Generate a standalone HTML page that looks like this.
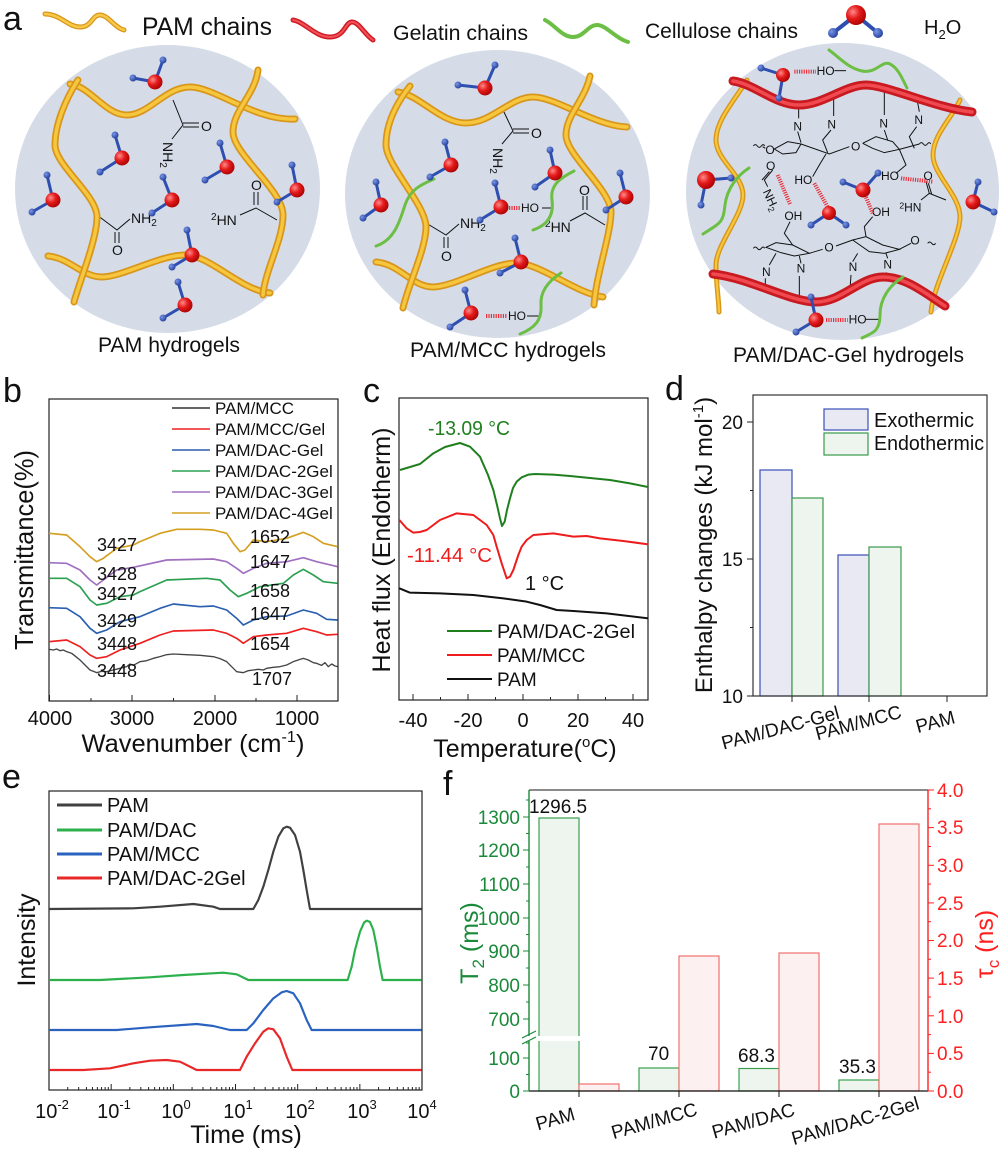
<!DOCTYPE html>
<html><head><meta charset="utf-8">
<style>
html,body{margin:0;padding:0;background:#fff}
svg{display:block}
text{font-family:"Liberation Sans",Arial,sans-serif;fill:#111}
</style></head><body>
<svg width="1006" height="1156" viewBox="0 0 1006 1156" xmlns="http://www.w3.org/2000/svg" xmlns:xlink="http://www.w3.org/1999/xlink">
<defs>
<radialGradient id="gR" cx="0.35" cy="0.35" r="0.75"><stop offset="0" stop-color="#ff8a8a"/><stop offset="0.45" stop-color="#e41a1a"/><stop offset="1" stop-color="#a00000"/></radialGradient>
<radialGradient id="gB" cx="0.35" cy="0.35" r="0.75"><stop offset="0" stop-color="#7a96e6"/><stop offset="1" stop-color="#1c3896"/></radialGradient>
<path id="c1t" d="M70,84 C90,86 105,115 127,115 S165,87 190,87 S255,121 295,119"/>
<path id="c1l" d="M78,80 C65,100 55,125 55,145 S97,195 97,217 S80,280 74,302"/>
<path id="c1b" d="M48,256 C70,258 82,277 102,277 S160,255 185,255 S240,290 270,293"/>
<path id="c1r" d="M258,70 C255,95 233,110 233,132 S283,190 283,215 S265,270 263,295"/>
<path id="c2t" d="M398,92 C420,95 440,123 466,123 S510,97 533,97 S595,126 627,127"/>
<path id="c2l" d="M410,86 C395,105 386,125 386,145 S426,205 426,227 S408,285 403,308"/>
<path id="c2b" d="M376,262 C400,264 412,287 433,287 S492,263 516,263 S575,293 603,297"/>
<path id="c2r" d="M590,76 C585,100 566,115 566,135 S611,190 611,212 S596,275 594,305"/>
<path id="c3l" d="M747,80 C735,100 716,120 716,140 S743,175 743,195 S716,245 716,265 S719,300 719,312"/>
<path id="c3r" d="M960,100 C952,118 933,135 933,155 S960,195 960,217 S933,285 931,312"/>
<path id="c3t" d="M733,81 C755,84 775,105 799,105 S845,85 866,85 S935,108 972,112"/>
<path id="c3b" d="M713,274 C750,278 790,302 816,302 S860,277 883,277 S925,293 945,306"/>
<path id="lgY" d="M45,14 C60,14 68,27 80,27 S92,15 100,15 S115,28 124,30"/>
<path id="lgR" d="M293,20 C305,22 315,37 330,37 S345,22 352,22 S365,35 373,40"/>
<g id="dec" stroke="#222" stroke-width="1">
<line x1="0" y1="0" x2="0" y2="-6"/>
<line x1="18.71" y1="0" x2="18.71" y2="-3"/><line x1="29.66" y1="0" x2="29.66" y2="-3"/>
<line x1="37.43" y1="0" x2="37.43" y2="-3"/><line x1="43.46" y1="0" x2="43.46" y2="-3"/>
<line x1="48.37" y1="0" x2="48.37" y2="-3"/><line x1="52.53" y1="0" x2="52.53" y2="-3"/>
<line x1="56.14" y1="0" x2="56.14" y2="-3"/><line x1="59.31" y1="0" x2="59.31" y2="-3"/>
</g>
</defs>
<rect width="1006" height="1156" fill="#fff"/>

<!-- ================= PANEL A ================= -->
<text x="3" y="30" font-size="34">a</text>
<use xlink:href="#lgY" fill="none" stroke="#d8961a" stroke-width="5" stroke-linecap="round"/>
<use xlink:href="#lgY" fill="none" stroke="#f8c848" stroke-width="2.5" stroke-linecap="round"/>
<text x="142" y="35" font-size="25" textLength="130" lengthAdjust="spacingAndGlyphs">PAM chains</text>
<use xlink:href="#lgR" fill="none" stroke="#d01c24" stroke-width="5" stroke-linecap="round"/>
<use xlink:href="#lgR" fill="none" stroke="#f25058" stroke-width="2" stroke-linecap="round"/>
<text x="393" y="40" font-size="21" textLength="135" lengthAdjust="spacingAndGlyphs">Gelatin chains</text>
<path d="M545,20 C555,25 562,37 573,37 S588,25 597,25 S615,38 628,42" fill="none" stroke="#6cbf44" stroke-width="4" stroke-linecap="round"/>
<text x="645" y="38" font-size="21" textLength="153" lengthAdjust="spacingAndGlyphs">Cellulose chains</text>
<line x1="856" y1="15" x2="833" y2="33" stroke="#2e4fb0" stroke-width="4"/>
<line x1="856" y1="15" x2="878" y2="33" stroke="#2e4fb0" stroke-width="4"/>
<circle cx="833" cy="33" r="5" fill="url(#gB)"/><circle cx="878" cy="33" r="5" fill="url(#gB)"/>
<circle cx="856" cy="15" r="10" fill="url(#gR)"/>
<text x="924" y="34" font-size="20">H<tspan font-size="13" dy="5">2</tspan><tspan dy="-5">O</tspan></text>

<!-- circles -->
<ellipse cx="167.5" cy="189" rx="152.5" ry="144" fill="#d5dce8"/>
<ellipse cx="497.5" cy="194" rx="152.5" ry="144" fill="#d5dce8"/>
<ellipse cx="842.5" cy="191.5" rx="156.5" ry="148.5" fill="#d5dce8"/>

<!-- circle 1 chemistry -->
<g stroke="#111" stroke-width="1" fill="none">
<polyline points="173,100 183,125 172,139"/>
<line x1="183" y1="123" x2="199" y2="123"/><line x1="183" y1="127" x2="199" y2="127"/>
<polyline points="97,215 117,230 130,219"/>
<line x1="115" y1="232" x2="115" y2="243"/><line x1="119" y1="232" x2="119" y2="243"/>
<polyline points="277,220 256,208 240,215"/>
<line x1="254" y1="192" x2="254" y2="205"/><line x1="258" y1="192" x2="258" y2="205"/>
</g>
<text x="201" y="131" font-size="14">O</text>
<text transform="translate(163,142) rotate(90)" font-size="14">NH<tspan font-size="10" dy="3">2</tspan></text>
<text x="131" y="223" font-size="14">NH<tspan font-size="10" dy="3">2</tspan></text>
<text x="112" y="255" font-size="14">O</text>
<text x="251" y="190" font-size="14">O</text>
<text x="211" y="225" font-size="14"><tspan font-size="10" dy="-5">2</tspan><tspan dy="5">HN</tspan></text>

<!-- circle 2 chemistry -->
<g stroke="#111" stroke-width="1" fill="none">
<polyline points="503,110 513,131 502,144"/>
<line x1="513" y1="129" x2="529" y2="129"/><line x1="513" y1="133" x2="529" y2="133"/>
<polyline points="426,223 446,235 459,224"/>
<line x1="444" y1="237" x2="444" y2="248"/><line x1="448" y1="237" x2="448" y2="248"/>
<polyline points="605,225 585,213 570,221"/>
<line x1="583" y1="196" x2="583" y2="210"/><line x1="587" y1="196" x2="587" y2="210"/>
<line x1="542" y1="208" x2="552" y2="208"/>
<line x1="527" y1="316" x2="540" y2="316"/>
</g>
<text x="531" y="138" font-size="14">O</text>
<text transform="translate(493,148) rotate(90)" font-size="14">NH<tspan font-size="10" dy="3">2</tspan></text>
<text x="460" y="228" font-size="14">NH<tspan font-size="10" dy="3">2</tspan></text>
<text x="441" y="261" font-size="14">O</text>
<text x="579" y="195" font-size="14">O</text>
<text x="545" y="232" font-size="14"><tspan font-size="10" dy="-5">2</tspan><tspan dy="5">HN</tspan></text>
<text x="521" y="212" font-size="12">HO</text>
<text x="508" y="320" font-size="12">HO</text>
<g stroke="#e8303a" stroke-width="4" stroke-dasharray="1.2 1.2"><line x1="509" y1="208" x2="520" y2="208"/><line x1="486" y1="316" x2="507" y2="316"/></g>

<!-- circle 3 chemistry (zoom coords) -->
<g transform="translate(666,0) scale(0.33333)">
<g stroke="#111" stroke-width="3" fill="none">
<path d="M262,438 q6,-8 12,0 t12,0 t10,0"/>
<line x1="298" y1="445" x2="290" y2="440"/>
<path d="M325,447 L365,425 L405,432 L390,458 L350,462 Z"/>
<polyline points="405,432 490,462 550,440"/>
<polyline points="590,430 630,410 680,425 700,448 655,458 620,445 590,430"/>
<polyline points="700,448 760,432"/>
<path d="M760,432 q6,-8 12,0 t12,0 t10,0"/>
<line x1="398" y1="355" x2="398" y2="320"/><line x1="503" y1="348" x2="503" y2="295"/>
<line x1="655" y1="345" x2="655" y2="268"/><line x1="760" y1="335" x2="752" y2="292"/>
<polyline points="395,395 405,428"/><polyline points="495,390 470,420 485,458"/>
<polyline points="655,390 665,420"/><polyline points="752,380 730,410 745,445"/>
<polyline points="480,462 460,495 440,530"/>
<polyline points="700,448 720,495 690,520"/>
<polyline points="320,510 295,540 305,560"/><line x1="310" y1="515" x2="288" y2="540"/>
<polyline points="780,545 790,580 840,600"/><line x1="787" y1="550" x2="797" y2="582"/>
<line x1="790" y1="580" x2="765" y2="600"/>
<path d="M262,745 q6,-8 12,0 t12,0 t10,0"/>
<path d="M300,742 L330,728 L380,735 L430,760 L385,768 L345,758 Z"/>
<polyline points="380,735 355,700 372,665"/>
<polyline points="430,760 470,748"/><polyline points="510,738 560,720"/>
<path d="M560,720 L600,710 L650,735 L700,748 L655,760 L610,755 Z"/>
<polyline points="600,710 595,680 620,650"/>
<path d="M785,730 q6,-8 12,0 t12,0"/>
<line x1="700" y1="748" x2="735" y2="730"/>
<line x1="330" y1="760" x2="310" y2="795"/><line x1="400" y1="768" x2="405" y2="790"/>
<line x1="575" y1="760" x2="560" y2="785"/><line x1="660" y1="760" x2="665" y2="775"/>
<line x1="298" y1="835" x2="298" y2="870"/><line x1="400" y1="828" x2="400" y2="898"/>
<line x1="555" y1="825" x2="552" y2="868"/><line x1="660" y1="818" x2="690" y2="835"/>
<line x1="505" y1="212" x2="540" y2="212"/><line x1="600" y1="958" x2="640" y2="958"/>
</g>
<g font-size="36">
<text x="298" y="462">O</text>
<text x="555" y="452">O</text>
<text x="382" y="392">N</text><text x="484" y="386">N</text><text x="640" y="382">N</text><text x="745" y="372">N</text>
<text x="300" y="510">O</text>
<text transform="translate(290,575) rotate(65)">NH<tspan font-size="26" dy="8">2</tspan></text>
<text x="385" y="552">HO</text>
<text x="645" y="540">HO</text>
<text x="772" y="540">O</text>
<text x="700" y="635"><tspan font-size="26" dy="-10">2</tspan><tspan dy="10">HN</tspan></text>
<text x="355" y="660">OH</text>
<text x="618" y="648">OH</text>
<text x="475" y="755">O</text>
<text x="733" y="733">O</text>
<text x="288" y="828">N</text><text x="392" y="818">N</text><text x="548" y="813">N</text><text x="652" y="806">N</text>
<text x="452" y="225">HO</text>
<text x="548" y="970">HO</text>
</g>
<g stroke="#e8303a" stroke-width="12" stroke-dasharray="3.5 3.5">
<line x1="335" y1="525" x2="372" y2="612"/>
<line x1="445" y1="550" x2="490" y2="630"/>
<line x1="600" y1="592" x2="620" y2="640"/>
<line x1="705" y1="535" x2="800" y2="545"/>
<line x1="385" y1="215" x2="450" y2="215"/>
<line x1="480" y1="960" x2="545" y2="960"/>
</g>
</g>

<!-- chains -->
<g fill="none" stroke-linecap="round">
<use xlink:href="#c1t" stroke="#d8961a" stroke-width="7"/><use xlink:href="#c1t" stroke="#f7c63f" stroke-width="3.5"/>
<use xlink:href="#c1b" stroke="#d8961a" stroke-width="7"/><use xlink:href="#c1b" stroke="#f7c63f" stroke-width="3.5"/>
<use xlink:href="#c1l" stroke="#d8961a" stroke-width="7"/><use xlink:href="#c1l" stroke="#f7c63f" stroke-width="3.5"/>
<use xlink:href="#c1r" stroke="#d8961a" stroke-width="7"/><use xlink:href="#c1r" stroke="#f7c63f" stroke-width="3.5"/>
<use xlink:href="#c2t" stroke="#d8961a" stroke-width="7"/><use xlink:href="#c2t" stroke="#f7c63f" stroke-width="3.5"/>
<use xlink:href="#c2b" stroke="#d8961a" stroke-width="7"/><use xlink:href="#c2b" stroke="#f7c63f" stroke-width="3.5"/>
<use xlink:href="#c2l" stroke="#d8961a" stroke-width="7"/><use xlink:href="#c2l" stroke="#f7c63f" stroke-width="3.5"/>
<use xlink:href="#c2r" stroke="#d8961a" stroke-width="7"/><use xlink:href="#c2r" stroke="#f7c63f" stroke-width="3.5"/>
<use xlink:href="#c3l" stroke="#d8961a" stroke-width="5"/><use xlink:href="#c3l" stroke="#f7c63f" stroke-width="2.2"/>
<use xlink:href="#c3r" stroke="#d8961a" stroke-width="5"/><use xlink:href="#c3r" stroke="#f7c63f" stroke-width="2.2"/>
<use xlink:href="#c3t" stroke="#c81a20" stroke-width="9"/><use xlink:href="#c3t" stroke="#f04a50" stroke-width="3.5"/>
<use xlink:href="#c3b" stroke="#c81a20" stroke-width="9"/><use xlink:href="#c3b" stroke="#f04a50" stroke-width="3.5"/>
<g stroke="#6cbf44" stroke-width="3">
<path d="M434,179 C420,185 410,190 405,205 S395,240 376,246"/>
<path d="M574,171 C560,178 550,185 552,200 S548,225 533,230"/>
<path d="M561,273 C550,280 540,290 541,305 S535,328 520,334"/>
<path d="M829,50 C840,58 848,68 862,71 S882,60 890,64 S902,78 907,88"/>
<path d="M749,168 C738,175 727,188 725,205 S722,222 703,234"/>
<path d="M903,277 C890,285 880,298 880,315 S872,333 862,338"/>
</g>
</g>

<!-- waters -->
<g stroke="#2e4fb0" stroke-width="3">
<path d="M155,82L133,78M155,82L163,60 M122,158L115,135M122,158L100,172 M53,200L47,175M53,200L32,212 M227,167L220,143M227,167L205,180 M172,200L163,177M172,200L152,213 M297,190L292,165M297,190L277,202 M192,255L187,230M192,255L172,267 M185,305L178,282M185,305L163,318"/>
<path d="M485,88L458,85M485,88L495,65 M451,165L445,142M451,165L430,177 M381,205L376,182M381,205L363,218 M555,173L550,150M555,173L535,187 M501,207L495,183M501,207L480,220 M626,197L620,173M626,197L606,210 M521,262L515,238M521,262L500,273 M471,313L465,290M471,313L450,327"/>
<path d="M783,75L761,68M783,75L779,98 M706,180L731,178M706,180L701,205 M829,213L811,225M829,213L846,225 M863,190L843,182M863,190L878,173 M973,202L978,182M973,202L994,212 M816,320L811,297M816,320L796,332"/>
</g>
<g fill="url(#gB)">
<circle cx="133" cy="78" r="3.5"/><circle cx="163" cy="60" r="3.5"/><circle cx="115" cy="135" r="3.5"/><circle cx="100" cy="172" r="3.5"/>
<circle cx="47" cy="175" r="3.5"/><circle cx="32" cy="212" r="3.5"/><circle cx="220" cy="143" r="3.5"/><circle cx="205" cy="180" r="3.5"/>
<circle cx="163" cy="177" r="3.5"/><circle cx="152" cy="213" r="3.5"/><circle cx="292" cy="165" r="3.5"/><circle cx="277" cy="202" r="3.5"/>
<circle cx="187" cy="230" r="3.5"/><circle cx="172" cy="267" r="3.5"/><circle cx="178" cy="282" r="3.5"/><circle cx="163" cy="318" r="3.5"/>
<circle cx="458" cy="85" r="3.5"/><circle cx="495" cy="65" r="3.5"/><circle cx="445" cy="142" r="3.5"/><circle cx="430" cy="177" r="3.5"/>
<circle cx="376" cy="182" r="3.5"/><circle cx="363" cy="218" r="3.5"/><circle cx="550" cy="150" r="3.5"/><circle cx="535" cy="187" r="3.5"/>
<circle cx="495" cy="183" r="3.5"/><circle cx="480" cy="220" r="3.5"/><circle cx="620" cy="173" r="3.5"/><circle cx="606" cy="210" r="3.5"/>
<circle cx="515" cy="238" r="3.5"/><circle cx="500" cy="273" r="3.5"/><circle cx="465" cy="290" r="3.5"/><circle cx="450" cy="327" r="3.5"/>
<circle cx="761" cy="68" r="3.5"/><circle cx="779" cy="98" r="3.5"/><circle cx="731" cy="178" r="3.5"/><circle cx="701" cy="205" r="3.5"/>
<circle cx="811" cy="225" r="3.5"/><circle cx="846" cy="225" r="3.5"/><circle cx="843" cy="182" r="3.5"/><circle cx="878" cy="173" r="3.5"/>
<circle cx="978" cy="182" r="3.5"/><circle cx="994" cy="212" r="3.5"/><circle cx="811" cy="297" r="3.5"/><circle cx="796" cy="332" r="3.5"/>
</g>
<g fill="url(#gR)">
<circle cx="155" cy="82" r="7.5"/><circle cx="122" cy="158" r="7.5"/><circle cx="53" cy="200" r="7.5"/><circle cx="227" cy="167" r="7.5"/>
<circle cx="172" cy="200" r="7.5"/><circle cx="297" cy="190" r="7.5"/><circle cx="192" cy="255" r="7.5"/><circle cx="185" cy="305" r="7.5"/>
<circle cx="485" cy="88" r="7.5"/><circle cx="451" cy="165" r="7.5"/><circle cx="381" cy="205" r="7.5"/><circle cx="555" cy="173" r="7.5"/>
<circle cx="501" cy="207" r="7.5"/><circle cx="626" cy="197" r="7.5"/><circle cx="521" cy="262" r="7.5"/><circle cx="471" cy="313" r="7.5"/>
<circle cx="783" cy="75" r="7"/><circle cx="706" cy="180" r="9"/><circle cx="829" cy="213" r="7"/><circle cx="863" cy="190" r="7.5"/>
<circle cx="973" cy="202" r="7.5"/><circle cx="816" cy="320" r="7.5"/>
</g>

<text x="98" y="352" font-size="21" textLength="142" lengthAdjust="spacingAndGlyphs">PAM hydrogels</text>
<text x="410" y="357" font-size="21" textLength="196" lengthAdjust="spacingAndGlyphs">PAM/MCC hydrogels</text>
<text x="733" y="362" font-size="21" textLength="231" lengthAdjust="spacingAndGlyphs">PAM/DAC-Gel hydrogels</text>

<!-- ================= PANEL B ================= -->
<text x="3" y="402" font-size="34">b</text>
<rect x="49" y="399" width="289" height="302" fill="none" stroke="#222" stroke-width="1.2"/>
<g stroke="#222" stroke-width="1">
<line x1="49.5" y1="701" x2="49.5" y2="695"/><line x1="132" y1="701" x2="132" y2="695"/><line x1="215" y1="701" x2="215" y2="695"/><line x1="297" y1="701" x2="297" y2="695"/>
<line x1="91" y1="701" x2="91" y2="698"/><line x1="173.5" y1="701" x2="173.5" y2="698"/><line x1="256" y1="701" x2="256" y2="698"/>
</g>
<g font-size="20" text-anchor="middle">
<text x="50" y="725">4000</text><text x="132" y="725">3000</text><text x="215" y="725">2000</text><text x="297" y="725">1000</text>
</g>
<text x="193" y="752" font-size="25" text-anchor="middle" textLength="223" lengthAdjust="spacingAndGlyphs">Wavenumber (cm<tspan font-size="16" dy="-10">-1</tspan><tspan dy="10">)</tspan></text>
<text transform="translate(33,550) rotate(-90)" font-size="26" text-anchor="middle" textLength="200" lengthAdjust="spacingAndGlyphs">Transmittance(%)</text>
<!-- legend b -->
<g stroke-width="1.6">
<line x1="172" y1="408" x2="210" y2="408" stroke="#333"/>
<line x1="172" y1="429" x2="210" y2="429" stroke="#ee2020"/>
<line x1="172" y1="450" x2="210" y2="450" stroke="#2a5fb0"/>
<line x1="172" y1="471" x2="210" y2="471" stroke="#2aa050"/>
<line x1="172" y1="492" x2="210" y2="492" stroke="#a070c0"/>
<line x1="172" y1="513" x2="210" y2="513" stroke="#d4a020"/>
</g>
<g font-size="17">
<text x="215" y="414">PAM/MCC</text><text x="215" y="435">PAM/MCC/Gel</text><text x="215" y="456">PAM/DAC-Gel</text>
<text x="215" y="477">PAM/DAC-2Gel</text><text x="215" y="498">PAM/DAC-3Gel</text><text x="215" y="519">PAM/DAC-4Gel</text>
</g>
<g transform="translate(0,480) scale(0.33333)" fill="none" stroke-width="5" stroke-linejoin="round">
<polyline stroke="#d4a020" points="147,160 200,165 240,200 270,230 290,245 310,235 350,205 400,195 420,185 480,160 530,148 600,148 640,150 680,160 700,190 720,215 735,210 760,180 800,185 860,175 910,157 940,170 970,190 1013,200"/>
<polyline stroke="#a070c0" points="147,248 200,250 240,270 270,300 290,315 310,300 350,270 400,262 500,240 640,237 680,245 710,265 730,280 760,265 800,250 860,245 910,233 950,245 1013,260"/>
<polyline stroke="#2aa050" points="147,295 200,295 240,320 270,360 290,375 320,370 360,350 400,345 420,335 500,300 620,295 660,300 690,330 715,350 740,340 780,320 850,310 880,285 910,268 940,285 970,305 1013,310"/>
<polyline stroke="#2a5fb0" points="147,383 200,385 240,410 270,445 290,460 320,450 360,425 420,410 480,385 520,372 600,380 640,378 680,390 710,415 730,435 760,420 800,410 860,408 910,390 950,400 980,418 1013,420"/>
<polyline stroke="#ee2020" points="147,485 200,480 240,500 270,525 290,535 320,530 360,510 420,490 480,465 520,453 640,450 680,460 710,475 730,490 760,470 800,465 860,460 910,445 950,455 980,465 1013,463"/>
<polyline stroke="#444" stroke-width="4" points="147,508 160,510 170,507 180,512 190,510 200,515 215,520 230,532 240,540 255,555 270,570 290,578 305,574 320,575 340,570 360,565 380,560 390,552 400,556 420,545 440,542 460,535 480,530 500,524 520,522 560,524 600,526 640,530 660,536 680,545 695,560 710,575 730,578 745,572 760,570 775,568 790,570 800,565 820,562 840,560 860,555 880,545 900,538 910,535 925,540 940,548 950,550 965,556 975,548 985,560 995,552 1005,558 1013,560"/>
</g>
<g font-size="18">
<text x="97" y="551">3427</text><text x="97" y="580">3428</text><text x="97" y="600">3427</text>
<text x="97" y="627">3429</text><text x="97" y="650">3448</text><text x="97" y="677">3448</text>
<text x="250" y="543">1652</text><text x="250" y="568">1647</text><text x="250" y="597">1658</text>
<text x="250" y="620">1647</text><text x="250" y="650">1654</text><text x="252" y="685">1707</text>
</g>

<!-- ================= PANEL C ================= -->
<text x="363" y="402" font-size="34">c</text>
<rect x="399" y="398" width="249" height="302" fill="none" stroke="#222" stroke-width="1.2"/>
<g stroke="#222" stroke-width="1">
<line x1="413" y1="700" x2="413" y2="694"/><line x1="468" y1="700" x2="468" y2="694"/><line x1="523" y1="700" x2="523" y2="694"/><line x1="578" y1="700" x2="578" y2="694"/><line x1="633" y1="700" x2="633" y2="694"/>
<line x1="440.5" y1="700" x2="440.5" y2="697"/><line x1="495.5" y1="700" x2="495.5" y2="697"/><line x1="550.5" y1="700" x2="550.5" y2="697"/><line x1="605.5" y1="700" x2="605.5" y2="697"/>
</g>
<g font-size="20" text-anchor="middle">
<text x="413" y="727">-40</text><text x="468" y="727">-20</text><text x="523" y="727">0</text><text x="578" y="727">20</text><text x="633" y="727">40</text>
</g>
<text x="525" y="757" font-size="25" text-anchor="middle">Temperature(<tspan font-size="15" dy="-10">o</tspan><tspan dy="10">C)</tspan></text>
<text transform="translate(390,550) rotate(-90)" font-size="25" text-anchor="middle" textLength="245" lengthAdjust="spacingAndGlyphs">Heat flux (Endotherm)</text>
<g transform="translate(340,480) scale(0.33333)" fill="none" stroke-width="6" stroke-linejoin="round">
<polyline stroke="#1f7f1f" points="180,-30 240,-48 280,-80 315,-99 360,-111 390,-100 420,-70 444,-15 460,30 471,75 480,115 486,138 494,125 501,90 510,55 519,24 530,5 545,-8 565,-16 585,-18 640,-16 690,-12 750,-6 810,0 870,10 924,21"/>
<polyline stroke="#ee1c1c" points="178,120 200,145 220,158 240,156 260,150 300,120 350,100 400,105 440,135 460,165 470,200 485,250 500,295 510,290 520,270 535,225 545,200 560,180 580,165 640,160 700,170 740,168 780,175 850,183 925,193"/>
<polyline stroke="#111" points="178,325 210,338 300,340 400,345 490,355 560,365 600,375 650,390 700,393 800,400 925,415"/>
</g>
<text x="428" y="435" font-size="20" style="fill:#1f7f1f" textLength="82" lengthAdjust="spacingAndGlyphs">-13.09 °C</text>
<text x="407" y="562" font-size="20" style="fill:#ee1c1c" textLength="85" lengthAdjust="spacingAndGlyphs">-11.44 °C</text>
<text x="525" y="590" font-size="20">1 °C</text>
<g stroke-width="2">
<line x1="447" y1="631" x2="492" y2="631" stroke="#1f7f1f"/>
<line x1="447" y1="655" x2="492" y2="655" stroke="#ee1c1c"/>
<line x1="447" y1="679" x2="492" y2="679" stroke="#111"/>
</g>
<g font-size="19">
<text x="497" y="638" textLength="138" lengthAdjust="spacingAndGlyphs">PAM/DAC-2Gel</text>
<text x="497" y="662">PAM/MCC</text>
<text x="497" y="686">PAM</text>
</g>

<!-- ================= PANEL D ================= -->
<text x="665" y="400" font-size="34">d</text>
<rect x="760" y="470" width="32" height="226" fill="#e9e9f3" stroke="#3a4fb8" stroke-width="1.2"/>
<rect x="792" y="498" width="31" height="198" fill="#eef4ee" stroke="#3a9a4a" stroke-width="1.2"/>
<rect x="838" y="555" width="31" height="141" fill="#e9e9f3" stroke="#3a4fb8" stroke-width="1.2"/>
<rect x="869" y="547" width="32" height="149" fill="#eef4ee" stroke="#3a9a4a" stroke-width="1.2"/>
<rect x="753" y="395" width="234" height="301" fill="none" stroke="#333" stroke-width="1.2"/>
<g stroke="#222" stroke-width="1">
<line x1="747" y1="696" x2="753" y2="696"/><line x1="747" y1="559" x2="753" y2="559"/><line x1="747" y1="422" x2="753" y2="422"/>
<line x1="750" y1="627.5" x2="753" y2="627.5"/><line x1="750" y1="490.5" x2="753" y2="490.5"/>
<line x1="792" y1="696" x2="792" y2="702"/><line x1="869" y1="696" x2="869" y2="702"/><line x1="947" y1="696" x2="947" y2="702"/>
</g>
<g font-size="19" text-anchor="end">
<text x="743" y="429">20</text><text x="743" y="566">15</text><text x="743" y="703">10</text>
</g>
<text transform="translate(712,545) rotate(-90)" font-size="24" text-anchor="middle">Enthalpy changes (kJ mol<tspan font-size="15" dy="-9">-1</tspan><tspan dy="9">)</tspan></text>
<rect x="824" y="409" width="44" height="21" fill="#e9e9f3" stroke="#3a4fb8" stroke-width="1.2"/>
<rect x="824" y="433" width="44" height="22" fill="#eef4ee" stroke="#3a9a4a" stroke-width="1.2"/>
<text x="874" y="427" font-size="20">Exothermic</text>
<text x="874" y="450" font-size="20" textLength="110" lengthAdjust="spacingAndGlyphs">Endothermic</text>
<g font-size="19" text-anchor="middle">
<text transform="translate(782,734) rotate(-15)">PAM/DAC-Gel</text>
<text transform="translate(860,729) rotate(-15)">PAM/MCC</text>
<text transform="translate(937,728) rotate(-15)">PAM</text>
</g>

<!-- ================= PANEL E ================= -->
<text x="2" y="788" font-size="34">e</text>
<rect x="49" y="791" width="373" height="299" fill="none" stroke="#222" stroke-width="1.2"/>
<use xlink:href="#dec" x="49" y="1090"/><use xlink:href="#dec" x="111.17" y="1090"/><use xlink:href="#dec" x="173.34" y="1090"/>
<use xlink:href="#dec" x="235.51" y="1090"/><use xlink:href="#dec" x="297.68" y="1090"/><use xlink:href="#dec" x="359.85" y="1090"/>
<g font-size="20" text-anchor="middle">
<text x="52" y="1118">10<tspan font-size="13" dy="-9">-2</tspan></text>
<text x="114" y="1118">10<tspan font-size="13" dy="-9">-1</tspan></text>
<text x="176" y="1118">10<tspan font-size="13" dy="-9">0</tspan></text>
<text x="238" y="1118">10<tspan font-size="13" dy="-9">1</tspan></text>
<text x="300" y="1118">10<tspan font-size="13" dy="-9">2</tspan></text>
<text x="362" y="1118">10<tspan font-size="13" dy="-9">3</tspan></text>
<text x="422" y="1118">10<tspan font-size="13" dy="-9">4</tspan></text>
</g>
<text x="246" y="1143" font-size="25" text-anchor="middle">Time (ms)</text>
<text transform="translate(35,940) rotate(-90)" font-size="25" text-anchor="middle">Intensity</text>
<g stroke-width="3">
<line x1="57" y1="805" x2="102" y2="805" stroke="#404040"/>
<line x1="57" y1="830" x2="102" y2="830" stroke="#2cb04c"/>
<line x1="57" y1="854" x2="102" y2="854" stroke="#2a62c0"/>
<line x1="57" y1="878" x2="102" y2="878" stroke="#e82828"/>
</g>
<g font-size="20">
<text x="107" y="812">PAM</text><text x="107" y="837">PAM/DAC</text><text x="107" y="861">PAM/MCC</text><text x="107" y="885">PAM/DAC-2Gel</text>
</g>
<g transform="translate(0,790) scale(0.33333)" fill="none" stroke-width="6.5" stroke-linejoin="round">
<polyline stroke="#404040" points="147,357 400,355 480,350 580,342 640,350 660,357 760,357 775,330 790,290 805,240 820,185 835,140 850,115 860,110 870,113 885,135 900,185 910,240 920,300 930,357 1265,357"/>
<polyline stroke="#2cb04c" points="147,570 300,570 450,562 550,555 670,548 710,553 745,570 1043,570 1055,530 1065,480 1080,425 1092,398 1100,392 1110,396 1120,420 1130,470 1140,530 1148,570 1265,570"/>
<polyline stroke="#2a62c0" points="147,720 350,720 450,712 590,702 640,708 690,720 740,720 760,700 790,660 820,625 845,607 860,603 880,610 900,640 920,690 935,720 1265,720"/>
<polyline stroke="#e82828" points="147,840 250,840 330,835 400,820 450,812 500,810 540,815 590,840 720,840 740,800 765,760 790,725 805,715 820,718 840,745 860,800 877,840 1265,840"/>
</g>

<!-- ================= PANEL F ================= -->
<text x="443" y="795" font-size="34">f</text>
<!-- bars -->
<rect x="539" y="818" width="40" height="273" fill="#eef5ee" stroke="#3aa050" stroke-width="1.2"/>
<rect x="579" y="1084" width="40" height="7" fill="#fdf0f0" stroke="#f07070" stroke-width="1.2"/>
<rect x="639" y="1068" width="40" height="23" fill="#eef5ee" stroke="#3aa050" stroke-width="1.2"/>
<rect x="679" y="956" width="40" height="135" fill="#fdf0f0" stroke="#f07070" stroke-width="1.2"/>
<rect x="739" y="1068.5" width="40" height="22.5" fill="#eef5ee" stroke="#3aa050" stroke-width="1.2"/>
<rect x="779" y="953" width="40" height="138" fill="#fdf0f0" stroke="#f07070" stroke-width="1.2"/>
<rect x="839" y="1080" width="40" height="11" fill="#eef5ee" stroke="#3aa050" stroke-width="1.2"/>
<rect x="879" y="824" width="40" height="267" fill="#fdf0f0" stroke="#f07070" stroke-width="1.2"/>
<!-- frame -->
<line x1="529" y1="790" x2="928" y2="790" stroke="#444" stroke-width="1.2"/>
<line x1="529" y1="1091" x2="928" y2="1091" stroke="#111" stroke-width="1.3"/>
<line x1="529" y1="790" x2="529" y2="1091" stroke="#1a8a3a" stroke-width="1.4"/>
<line x1="928" y1="790" x2="928" y2="1091" stroke="#ff2020" stroke-width="1.4"/>
<!-- break -->
<rect x="520" y="1036" width="65" height="5" fill="#fff"/>
<g stroke="#1a8a3a" stroke-width="1.2"><line x1="522" y1="1038" x2="536" y2="1031"/><line x1="522" y1="1044" x2="536" y2="1037"/></g>
<!-- left ticks -->
<g stroke="#1a8a3a" stroke-width="1">
<line x1="523" y1="1091" x2="529" y2="1091"/><line x1="523" y1="1058" x2="529" y2="1058"/>
<line x1="526" y1="1074.5" x2="529" y2="1074.5"/><line x1="526" y1="1043" x2="529" y2="1043"/>
<line x1="523" y1="1019" x2="529" y2="1019"/><line x1="523" y1="985" x2="529" y2="985"/><line x1="523" y1="951" x2="529" y2="951"/>
<line x1="523" y1="918" x2="529" y2="918"/><line x1="523" y1="884" x2="529" y2="884"/><line x1="523" y1="850" x2="529" y2="850"/><line x1="523" y1="817" x2="529" y2="817"/>
<line x1="526" y1="1002" x2="529" y2="1002"/><line x1="526" y1="968" x2="529" y2="968"/><line x1="526" y1="934.5" x2="529" y2="934.5"/>
<line x1="526" y1="901" x2="529" y2="901"/><line x1="526" y1="867" x2="529" y2="867"/><line x1="526" y1="833.5" x2="529" y2="833.5"/><line x1="526" y1="800" x2="529" y2="800"/>
</g>
<g font-size="19" text-anchor="end" style="fill:#1a8a3a">
<text x="520" y="1098" style="fill:#1a8a3a">0</text><text x="520" y="1065" style="fill:#1a8a3a">100</text>
<text x="520" y="1026" style="fill:#1a8a3a">700</text><text x="520" y="992" style="fill:#1a8a3a">800</text><text x="520" y="958" style="fill:#1a8a3a">900</text>
<text x="520" y="925" style="fill:#1a8a3a">1000</text><text x="520" y="891" style="fill:#1a8a3a">1100</text><text x="520" y="857" style="fill:#1a8a3a">1200</text><text x="520" y="824" style="fill:#1a8a3a">1300</text>
</g>
<!-- right ticks -->
<g stroke="#ff2020" stroke-width="1">
<line x1="928" y1="1091" x2="934" y2="1091"/><line x1="928" y1="1053.4" x2="934" y2="1053.4"/><line x1="928" y1="1015.8" x2="934" y2="1015.8"/>
<line x1="928" y1="978.1" x2="934" y2="978.1"/><line x1="928" y1="940.5" x2="934" y2="940.5"/><line x1="928" y1="902.9" x2="934" y2="902.9"/>
<line x1="928" y1="865.3" x2="934" y2="865.3"/><line x1="928" y1="827.6" x2="934" y2="827.6"/><line x1="928" y1="790" x2="934" y2="790"/>
<line x1="928" y1="1072.2" x2="931" y2="1072.2"/><line x1="928" y1="1034.6" x2="931" y2="1034.6"/><line x1="928" y1="997" x2="931" y2="997"/>
<line x1="928" y1="959.3" x2="931" y2="959.3"/><line x1="928" y1="921.7" x2="931" y2="921.7"/><line x1="928" y1="884.1" x2="931" y2="884.1"/>
<line x1="928" y1="846.5" x2="931" y2="846.5"/><line x1="928" y1="808.8" x2="931" y2="808.8"/>
</g>
<g font-size="19">
<text x="937" y="1098" style="fill:#ff2020">0.0</text><text x="937" y="1060" style="fill:#ff2020">0.5</text><text x="937" y="1023" style="fill:#ff2020">1.0</text>
<text x="937" y="985" style="fill:#ff2020">1.5</text><text x="937" y="947" style="fill:#ff2020">2.0</text><text x="937" y="910" style="fill:#ff2020">2.5</text>
<text x="937" y="872" style="fill:#ff2020">3.0</text><text x="937" y="834" style="fill:#ff2020">3.5</text><text x="937" y="797" style="fill:#ff2020">4.0</text>
</g>
<g stroke="#111" stroke-width="1">
<line x1="579" y1="1091" x2="579" y2="1097"/><line x1="679" y1="1091" x2="679" y2="1097"/><line x1="779" y1="1091" x2="779" y2="1097"/><line x1="879" y1="1091" x2="879" y2="1097"/>
</g>
<text transform="translate(478,943) rotate(-90)" font-size="25" text-anchor="middle" style="fill:#1a8a3a">T<tspan font-size="17" dy="6">2</tspan><tspan dy="-6"> (ms)</tspan></text>
<text transform="translate(993,944) rotate(-90)" font-size="25" text-anchor="middle" style="fill:#ff2020">τ<tspan font-size="17" dy="6">c</tspan><tspan dy="-6"> (ns)</tspan></text>
<g font-size="19">
<text x="529" y="813">1296.5</text>
<text x="648" y="1060">70</text>
<text x="738" y="1062">68.3</text>
<text x="839" y="1073">35.3</text>
</g>
<g font-size="19" text-anchor="middle">
<text transform="translate(557,1125) rotate(-16)">PAM</text>
<text transform="translate(656,1127) rotate(-16)">PAM/MCC</text>
<text transform="translate(755,1127) rotate(-16)">PAM/DAC</text>
<text transform="translate(857,1127) rotate(-16)">PAM/DAC-2Gel</text>
</g>
</svg>
</body></html>
